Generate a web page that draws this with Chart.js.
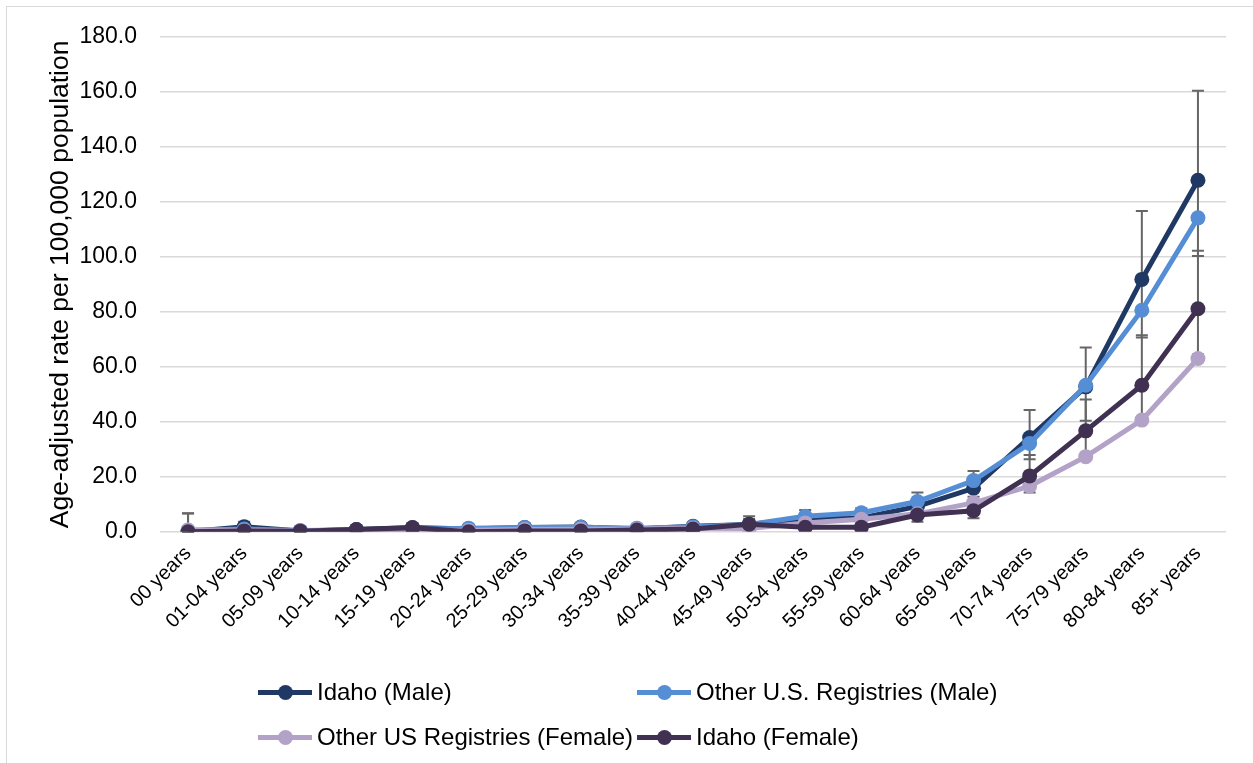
<!DOCTYPE html>
<html>
<head>
<meta charset="utf-8">
<script src="https://cdn.jsdelivr.net/npm/chart.js@4"></script>
<style>
  html, body { margin: 0; padding: 0; background: #fff; }
  body { width: 1253px; height: 763px; position: relative; overflow: hidden;
         font-family: "Liberation Sans", Arial, sans-serif; }
  #frame { position: absolute; left: 6px; top: 6px; width: 1300px; height: 800px;
           border-left: 1px solid #d9d9d9; border-top: 1px solid #d9d9d9; }
  #chart { position: absolute; left: 0; top: 0; }
  .legend-item { position: absolute; display: flex; align-items: center;
                 font-size: 24px; color: #000; white-space: nowrap; }
  .swatch { position: relative; width: 54px; height: 15px; margin-right: 5px; }
  .swatch .ln { position: absolute; left: 0; right: 0; top: 5px; height: 5px; }
  .swatch .dot { position: absolute; left: 20px; top: 0; width: 15px; height: 15px; border-radius: 50%; }
</style>
</head>
<body>
<div id="frame"></div>
<canvas id="chart" width="1253" height="763"></canvas>
<div id="legend"></div>
<script>
// Age groups along the category axis
const categories = ['00 years', '01-04 years', '05-09 years', '10-14 years', '15-19 years',
  '20-24 years', '25-29 years', '30-34 years', '35-39 years', '40-44 years', '45-49 years',
  '50-54 years', '55-59 years', '60-64 years', '65-69 years', '70-74 years', '75-79 years',
  '80-84 years', '85+ years'];

// Rates per 100,000 population
const idahoMale = [0.0, 1.8, 0.3, 0.8, 1.5, 1.0, 1.5, 1.7, 1.0, 2.0, 2.6, 4.8, 5.0, 9.2, 15.8, 34.3, 52.7, 91.8, 127.9];
const otherMale = [0.5, 1.0, 0.4, 0.6, 0.9, 1.3, 1.5, 1.6, 1.3, 1.8, 2.6, 5.6, 6.9, 11.0, 18.6, 32.1, 53.3, 80.6, 114.2];
const otherFemale = [0.6, 0.5, 0.3, 0.5, 0.3, 0.5, 0.8, 0.9, 1.0, 1.3, 1.2, 3.2, 4.5, 6.5, 10.5, 16.6, 27.3, 40.6, 63.0];
const idahoFemale = [0.0, 0.3, 0.2, 0.8, 1.4, 0.0, 0.3, 0.3, 0.6, 1.0, 2.7, 1.6, 1.6, 6.1, 7.6, 20.3, 36.7, 53.3, 81.1];

// 95% confidence limits for the Idaho series
const idahoMaleLow = [0.0, 0.6, 0.0, 0.2, 0.6, 0.3, 0.6, 0.7, 0.3, 0.9, 1.3, 2.6, 2.8, 5.6, 10.8, 26.4, 40.4, 70.7, 100.3];
const idahoMaleHigh = [6.7, 3.6, 1.3, 2.0, 3.0, 2.3, 2.9, 3.1, 2.2, 3.3, 5.6, 7.9, 8.5, 14.3, 22.1, 44.3, 67.0, 116.7, 160.4];
const idahoFemaleLow = [0.0, 0.0, 0.0, 0.3, 0.6, 0.0, 0.0, 0.0, 0.2, 0.4, 1.3, 0.6, 0.6, 3.6, 4.9, 14.3, 27.5, 40.8, 64.5];
const idahoFemaleHigh = [6.6, 1.3, 1.0, 1.8, 2.7, 1.1, 1.1, 1.0, 1.4, 2.0, 4.6, 3.3, 3.3, 9.3, 12.7, 27.9, 48.1, 71.5, 102.2];

// Y axis tick values
const yTicks = [0, 20, 40, 60, 80, 100, 120, 140, 160, 180];

const seriesNames = ['Idaho (Male)', 'Other U.S. Registries (Male)', 'Other US Registries (Female)', 'Idaho (Female)'];
const seriesColors = ['#1f3864', '#558ed5', '#b3a2c7', '#403152'];

const FONT = '"Liberation Sans", Arial, sans-serif';

function lineSet(label, data, color, order, bars) {
  return {
    label, data, order,
    borderColor: color, backgroundColor: color,
    pointBackgroundColor: color, pointBorderColor: color,
    borderWidth: 5, pointRadius: 7.5, pointBorderWidth: 0,
    tension: 0, fill: false,
    errorLow: bars ? bars[0] : null, errorHigh: bars ? bars[1] : null
  };
}

// Vertical confidence-interval whiskers, drawn beneath the lines
const errorBars = {
  id: 'errorBars',
  beforeDatasetsDraw(chart) {
    const ctx = chart.ctx, x = chart.scales.x, y = chart.scales.y;
    ctx.save();
    ctx.strokeStyle = '#666666';
    ctx.lineWidth = 2;
    chart.data.datasets.forEach(ds => {
      if (!ds.errorLow) return;
      ds.errorLow.forEach((lo, i) => {
        const hi = ds.errorHigh[i];
        const px = x.getPixelForValue(i);
        const yLo = y.getPixelForValue(lo), yHi = y.getPixelForValue(hi);
        ctx.beginPath();
        ctx.moveTo(px, yLo); ctx.lineTo(px, yHi);
        ctx.moveTo(px - 6, yHi); ctx.lineTo(px + 6, yHi);
        ctx.moveTo(px - 6, yLo); ctx.lineTo(px + 6, yLo);
        ctx.stroke();
      });
    });
    ctx.restore();
  }
};

new Chart(document.getElementById('chart'), {
  type: 'line',
  data: {
    labels: categories,
    datasets: [
      lineSet(seriesNames[0], idahoMale, seriesColors[0], 4, [idahoMaleLow, idahoMaleHigh]),
      lineSet(seriesNames[1], otherMale, seriesColors[1], 3, null),
      lineSet(seriesNames[2], otherFemale, seriesColors[2], 2, null),
      lineSet(seriesNames[3], idahoFemale, seriesColors[3], 1, [idahoFemaleLow, idahoFemaleHigh])
    ]
  },
  options: {
    responsive: false,
    animation: false,
    layout: { padding: { left: 45, right: 27, top: 37, bottom: 0 } },
    plugins: { legend: { display: false }, tooltip: { enabled: false } },
    scales: {
      x: {
        offset: true,
        grid: { display: false, drawTicks: false },
        border: { display: false },
        ticks: {
          autoSkip: false, maxRotation: 45, minRotation: 45, padding: 10,
          color: '#000', font: { family: FONT, size: 20 }
        },
        afterFit(scale) { scale.height = 763 - 531.7; }
      },
      y: {
        min: 0, max: 180,
        afterBuildTicks(scale) { scale.ticks = yTicks.map(v => ({ value: v })); },
        grid: { color: '#d9d9d9', lineWidth: 1.5, drawTicks: false },
        border: { display: false },
        ticks: {
          padding: 23, color: '#000', font: { family: FONT, size: 23 },
          callback: v => Number(v).toFixed(1)
        },
        title: {
          display: true, text: 'Age-adjusted rate per 100,000 population',
          color: '#000', font: { family: FONT, size: 26.5 }, padding: { top: 0, bottom: 0 }
        },
        afterFit(scale) { scale.width = 160 - 45; }
      }
    }
  },
  plugins: [errorBars]
});

// Two-column legend beneath the plot
const legendLayout = [
  { i: 0, left: 258, top: 692 },
  { i: 1, left: 637, top: 692 },
  { i: 2, left: 258, top: 737 },
  { i: 3, left: 637, top: 737 }
];
const legend = document.getElementById('legend');
legendLayout.forEach(p => {
  const item = document.createElement('div');
  item.className = 'legend-item';
  item.style.left = p.left + 'px';
  item.style.top = (p.top - 14) + 'px';
  item.style.height = '28px';
  const sw = document.createElement('div');
  sw.className = 'swatch';
  sw.innerHTML = '<div class="ln" style="background:' + seriesColors[p.i] + '"></div>' +
                 '<div class="dot" style="background:' + seriesColors[p.i] + '"></div>';
  const tx = document.createElement('span');
  tx.textContent = seriesNames[p.i];
  item.appendChild(sw);
  item.appendChild(tx);
  legend.appendChild(item);
});
</script>
</body>
</html>
